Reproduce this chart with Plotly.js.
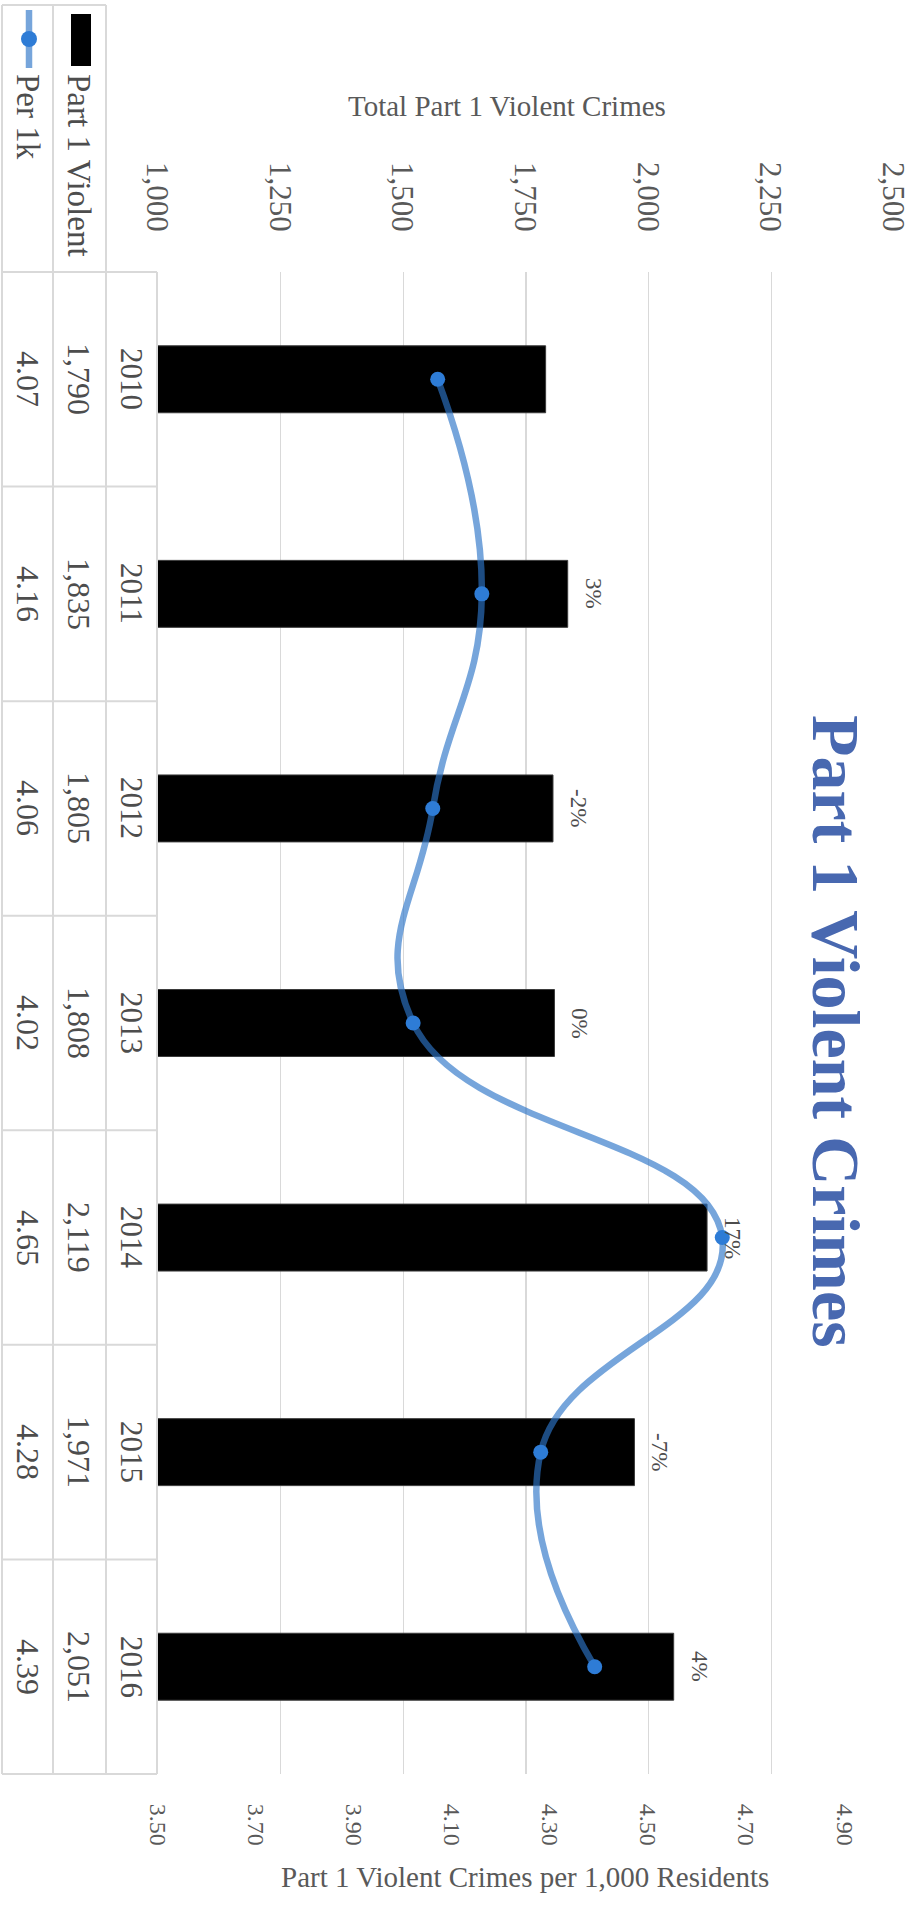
<!DOCTYPE html>
<html>
<head>
<meta charset="utf-8">
<script src="https://cdn.plot.ly/plotly-3.0.1.min.js"></script>
<style>
  html, body { margin: 0; padding: 0; background: #ffffff; }
  body { width: 922px; height: 1908px; overflow: hidden; position: relative; }
  #chart {
    position: absolute; left: 0; top: 0;
    width: 1908px; height: 922px;
    transform-origin: 0 0;
    transform: translate(922px, 0) rotate(90deg);
  }
</style>
</head>
<body>
<div id="chart"></div>
<script>
// ---- data ----
const years = ['2010', '2011', '2012', '2013', '2014', '2015', '2016'];
const violentCrimes = [1790, 1835, 1805, 1808, 2119, 1971, 2051];
const per1k = [4.07, 4.16, 4.06, 4.02, 4.65, 4.28, 4.39];
const changeLabels = ['', '3%', '-2%', '0%', '17%', '-7%', '4%'];
const seriesNames = ['Part 1 Violent', 'Per 1k'];
const chartTitle = 'Part 1 Violent Crimes';
const leftAxisTitle = 'Total Part 1 Violent Crimes';
const rightAxisTitle = 'Part 1 Violent Crimes per 1,000 Residents';

// ---- geometry of the (unrotated) chart ----
const W = 1908, H = 922;
const L = 272, R = 1774, T = 28, B = 764;
const px = v => (v - L) / (R - L);
const py = v => (B - v) / (B - T);

const serif = 'Liberation Serif, Times New Roman, serif';
const gridCol = '#D9D9D9';
const txtCol = '#4D4D4D';

const traces = [
  {
    type: 'bar', x: years, y: violentCrimes, name: seriesNames[0],
    width: 0.312, marker: { color: '#000000', line: { color: '#3a3a3a', width: 1 } },
    yaxis: 'y', showlegend: false, hoverinfo: 'skip'
  },
  {
    type: 'scatter', mode: 'lines+markers', x: years, y: per1k, name: seriesNames[1],
    yaxis: 'y2', showlegend: false, hoverinfo: 'skip',
    line: { shape: 'spline', smoothing: 1.3, color: 'rgba(45,117,200,0.65)', width: 6.5 },
    marker: { size: 15, color: '#2E7CD6' }
  }
];

const annotations = [];
const shapes = [];

// chart title
annotations.push({
  text: '<b>' + chartTitle + '</b>', xref: 'paper', yref: 'paper',
  x: px(1031), y: py(86), xanchor: 'center', yanchor: 'middle', showarrow: false,
  font: { family: serif, size: 68, color: '#4868B0' }
});
// axis titles
annotations.push({
  text: leftAxisTitle, xref: 'paper', yref: 'paper', x: px(106), y: py(415),
  xanchor: 'center', yanchor: 'middle', textangle: -90, showarrow: false,
  font: { family: serif, size: 29, color: '#595959' }
});
annotations.push({
  text: rightAxisTitle, xref: 'paper', yref: 'paper', x: px(1877), y: py(397),
  xanchor: 'center', yanchor: 'middle', textangle: -90, showarrow: false,
  font: { family: serif, size: 29, color: '#595959' }
});

// percent change labels at bar ends (x given as category index)
years.forEach((yr, i) => {
  if (!changeLabels[i]) return;
  annotations.push({
    text: changeLabels[i], xref: 'x', yref: 'y', x: i, y: violentCrimes[i],
    xanchor: 'center', yanchor: 'bottom', yshift: 11, showarrow: false,
    font: { family: serif, size: 23, color: txtCol }
  });
});

// data table
const rowYear = py(790.5), rowViol = py(842.5), rowPer = py(894.5);
years.forEach((yr, i) => {
  annotations.push({ text: yr, xref: 'x', yref: 'paper', x: i, y: rowYear,
    xanchor: 'center', yanchor: 'middle', showarrow: false,
    font: { family: serif, size: 31, color: txtCol } });
  annotations.push({ text: violentCrimes[i].toLocaleString('en-US'), xref: 'x', yref: 'paper', x: i, y: rowViol,
    xanchor: 'center', yanchor: 'middle', showarrow: false,
    font: { family: serif, size: 32, color: txtCol } });
  annotations.push({ text: per1k[i].toFixed(2), xref: 'x', yref: 'paper', x: i, y: rowPer,
    xanchor: 'center', yanchor: 'middle', showarrow: false,
    font: { family: serif, size: 32, color: txtCol } });
});
// legend column texts
annotations.push({ text: seriesNames[0], xref: 'paper', yref: 'paper', x: px(72), y: rowViol,
  xanchor: 'left', yanchor: 'middle', showarrow: false,
  font: { family: serif, size: 33, color: txtCol } });
annotations.push({ text: seriesNames[1], xref: 'paper', yref: 'paper', x: px(72), y: rowPer,
  xanchor: 'left', yanchor: 'middle', showarrow: false,
  font: { family: serif, size: 33, color: txtCol } });

// table borders
const tl = (x0, y0, x1, y1) => shapes.push({ type: 'line', xref: 'paper', yref: 'paper',
  x0: px(x0), y0: py(y0), x1: px(x1), y1: py(y1), line: { color: gridCol, width: 2 }, layer: 'below' });
tl(L, 765, R, 765);
tl(5, 816, R, 816);
tl(5, 869, R, 869);
tl(5, 920, R, 920);
tl(5, 816, 5, 920);
for (let k = 0; k <= years.length; k++) {
  const xx = L + k * (R - L) / years.length;
  tl(xx, 765, xx, 920);
}
// legend keys
shapes.push({ type: 'rect', xref: 'paper', yref: 'paper', x0: px(14), x1: px(66), y0: py(831), y1: py(851),
  fillcolor: '#000000', line: { width: 0 } });
shapes.push({ type: 'line', xref: 'paper', yref: 'paper', x0: px(10), x1: px(68), y0: py(893), y1: py(893),
  line: { color: 'rgba(45,117,200,0.65)', width: 6.5 } });
shapes.push({ type: 'circle', xref: 'paper', yref: 'paper', xsizemode: 'pixel', ysizemode: 'pixel',
  xanchor: px(39), yanchor: py(893), x0: -8, x1: 8, y0: -8, y1: 8,
  fillcolor: '#2E7CD6', line: { width: 0 } });

const layout = {
  width: W, height: H, autosize: false,
  paper_bgcolor: '#ffffff', plot_bgcolor: 'rgba(0,0,0,0)',
  margin: { l: L, r: W - R, t: T, b: H - B, pad: 0 },
  showlegend: false,
  font: { family: serif, color: '#595959' },
  xaxis: {
    type: 'category', range: [-0.5, years.length - 0.5],
    showticklabels: false, ticks: '', showgrid: false, zeroline: false, showline: false
  },
  yaxis: {
    range: [1000, 2500], dtick: 250, tick0: 1000, tickformat: ',d',
    showgrid: true, gridcolor: gridCol, gridwidth: 1.5, zeroline: false, showline: false,
    ticks: 'outside', ticklen: 33, tickcolor: 'rgba(0,0,0,0)',
    tickfont: { family: serif, size: 31, color: '#595959' }
  },
  yaxis2: {
    overlaying: 'y', side: 'right', range: [3.5, 5.0], dtick: 0.2, tick0: 3.5, tickformat: '.2f',
    showgrid: false, zeroline: false, showline: false,
    ticks: 'outside', ticklen: 24, tickcolor: 'rgba(0,0,0,0)',
    tickfont: { family: serif, size: 24, color: '#595959' }
  },
  annotations: annotations,
  shapes: shapes
};

Plotly.newPlot('chart', traces, layout, { staticPlot: true, displayModeBar: false });
</script>
</body>
</html>
